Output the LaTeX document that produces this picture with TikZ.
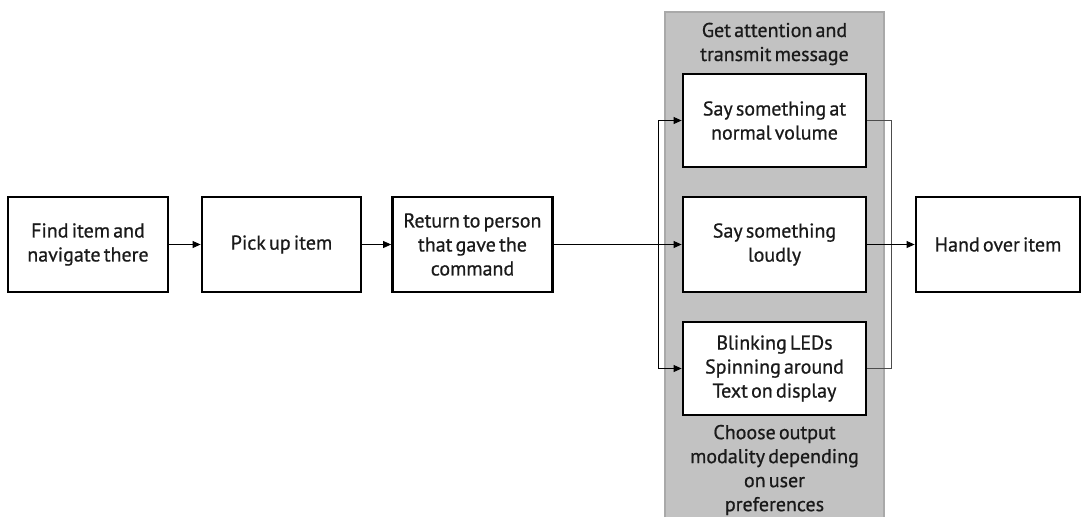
\documentclass[tikz,border=0pt]{standalone}
\usepackage{fontspec}
\setmainfont{PT Sans}
\newfontfamily\labelfont{PT Sans}[RawFeature={embolden=0.7}, WordSpace=0.6]
\usetikzlibrary{arrows.meta}
\definecolor{panelfill}{HTML}{C2C2C2}
\definecolor{panelline}{HTML}{A9A9A9}
\definecolor{txt}{HTML}{1A1A1A}
\begin{document}
\begin{tikzpicture}[x=1pt,y=-1pt,
  stepbox/.style={draw=black, line width=2.8pt, fill=white, text=txt,
    align=center, inner sep=0pt, minimum width=160pt, minimum height=95pt,
    font=\labelfont\fontsize{20}{24}\selectfont},
  modebox/.style={stepbox, minimum width=183pt, minimum height=94pt},
  paneltext/.style={text=txt, align=center, inner sep=0pt,
    font=\labelfont\fontsize{20}{24}\selectfont},
  link/.style={draw=black, line width=0.8pt},
  arr/.style={link, -{Triangle[length=8pt, width=7pt]}},
  joinlink/.style={draw=black!70, line width=0.8pt}]
\useasboundingbox (0,0) rectangle (1091,517);
\fill[white] (0,0) rectangle (1091,517);

% grey panel behind the output modalities
\fill[panelfill] (665,12) rectangle (884,517);
\draw[panelline, line width=1.5pt] (665,517) -- (665,12) -- (884,12) -- (884,517);
\node[paneltext] (ptop) at (774.5,44) {Get attention and\\transmit message};
\node[paneltext] (pbot) at (774.5,470) {Choose output\\modality depending\\on user\\preferences};

% main sequence
\node[stepbox] (b1) at (88,244.5) {Find item and\\navigate there};
\node[stepbox, minimum width=159pt] (b2) at (281.5,244.5) {Pick up item};
\node[stepbox] (b3) at (472.5,244.5) {Return to person\\that gave the\\command};
\node[stepbox, minimum width=164pt] (ho) at (998,244.5) {Hand over item};

% output modalities
\node[modebox, minimum height=93pt] (s1) at (774.5,120.5) {Say something at\\normal volume};
\node[modebox, minimum height=95pt] (s2) at (774.5,244.5) {Say something\\loudly};
\node[modebox, minimum height=93pt] (s3) at (774.5,368.5) {Blinking LEDs\\Spinning around\\Text on display};

% split and join points
\coordinate (sl) at (658,244.5);
\coordinate (sr) at (891,244.5);

\draw[arr] (b1.east) -- (b2.west);
\draw[arr] (b2.east) -- (b3.west);
\draw[link] (b3.east) -- (sl);
\draw[arr] (sl) |- (s1.west);
\draw[arr] (sl) -- (s2.west);
\draw[arr] (sl) |- (s3.west);
\draw[joinlink] (s1.east) -| (sr);
\draw[joinlink] (s3.east) -| (sr);
\draw[arr] (s2.east) -- (ho.west);
\end{tikzpicture}
\end{document}
